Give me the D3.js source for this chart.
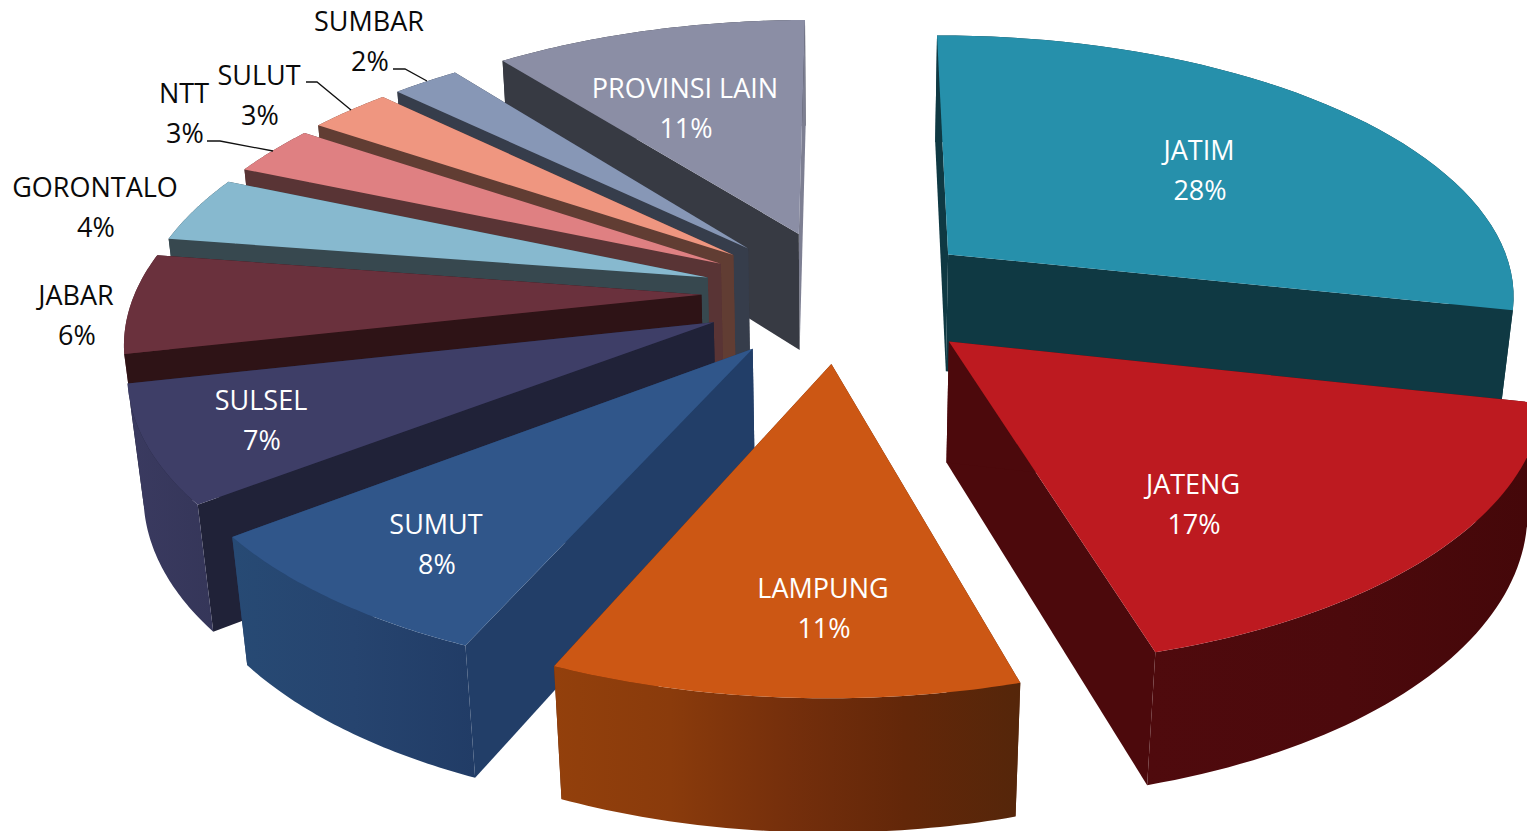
<!DOCTYPE html>
<html><head><meta charset="utf-8"><style>html,body{margin:0;background:#fff;overflow:hidden}svg{display:block}text{font-family:"Open Sans",sans-serif;font-size:27px;text-anchor:middle}</style></head>
<body><svg id="c" width="1527" height="831"></svg>
<script src="https://cdn.jsdelivr.net/npm/d3@7"></script>
<script>
// data
const categories=["JATIM","JATENG","LAMPUNG","SUMUT","SULSEL","JABAR","GORONTALO","NTT","SULUT","SUMBAR","PROVINSI LAIN"];
const percents=[28,17,11,8,7,6,4,3,3,2,11];
// styles
const topColors=["#2690ab","#bd1a20","#cc5714","#30568a","#3e3e67","#6a313d","#87b9cf","#df8082","#ef9680","#8797b6","#8b8ea5"];
const cutColors=["#0f3943","#4c090c","#62270a","#223e68","#202238","#2e1316","#37484f","#593435","#613d33","#363d4b","#373a43"];
const farCutColors=["#0f3943","#4c090c","#62270a","#223e68","#202238","#2e1316","#37484f","#593435","#613d33","#363d4b","#7d7f92"];
const wallStops=[["#0f3943","#0f3943"],["#4f0a0d","#4c090c","#440709"],["#93400c","#8a3b0c","#752f0c","#632709","#55260a"],["#274a74","#26446f","#213c66"],["#3a3a60","#353659"],["#5c2a35","#5c2a35"],["#37484f","#37484f"],["#593435","#593435"],["#613d33","#613d33"],["#363d4b","#363d4b"],["#373a43","#373a43"]];
const labelDark=[false,false,false,false,false,true,true,true,true,true,false];
// layout: label anchors [x, name baseline, percent baseline]
const labelPos=[[1199,160,200],[1193,494,534],[823,598,638],[436,534,574],[261,410,450],[76,305,345],[95,197,237],[184,103,143],[259,85,125],[369,31,71],[685,98,138]];
const leaders=new Map([["NTT",[[207,141],[220,141],[273,151]]],["SULUT",[[306,82],[317,82],[351,110]]],["SUMBAR",[[393,69],[405,69],[427,81]]]]);
// projection of the pie's top plane (unit radius), plus the vanishing point for its thickness
const H=[564.616,-144.945,800,5.799,219.182,300,-0.006597,-0.14806];
const vanish=[839.79,5746.84], thickness=0.02232;
// where each exploded slice's tip lies in the pie plane
const explodeX=[0.2580,0.2619,0.0639,-0.0723,-0.1456,-0.1743,-0.1678,-0.1482,-0.1280,-0.1030,-0.0143];
const explodeY=[-0.1851,0.1464,0.2321,0.1821,0.0876,-0.0153,-0.0815,-0.1360,-0.1718,-0.1983,-0.2599];
const startNudge=[-0.03085,0,0,0,0,0,0,0,0,-0.015,0], endNudge=[0,0,0,0,0,0,0,0,-0.015,0,-0.03384];
const paintOrder=[10,9,8,7,6,5,4,3,0,1,2];

function project(X,Y,bottom){
  const w=H[6]*X+H[7]*Y+1, x=H[0]*X+H[1]*Y+H[2], y=H[3]*X+H[4]*Y+H[5], t=bottom?thickness:0;
  return [(x+vanish[0]*t)/(w+t),(y+vanish[1]*t)/(w+t)];
}
const slices=d3.pie().sort(null).value(d=>d)(percents);
const svg=d3.select("#c"), defs=svg.append("defs"), line=d3.line(), N=48;

paintOrder.forEach(i=>{
  const s=slices[i], a0=s.startAngle+startNudge[i], a1=s.endAngle+endNudge[i];
  const angle=d3.scaleLinear().domain([0,N]).range([a0,a1]);
  const rim=b=>d3.range(N+1).map(k=>project(explodeX[i]+Math.sin(angle(k)),explodeY[i]-Math.cos(angle(k)),b));
  const tip=b=>project(explodeX[i],explodeY[i],b);
  const t=rim(false), u=rim(true);
  const xs=d3.extent(t.concat(u),d=>d[0]);
  const g=defs.append("linearGradient").attr("id","wall"+i).attr("gradientUnits","userSpaceOnUse")
    .attr("x1",xs[0]).attr("x2",xs[1]).attr("y1",0).attr("y2",0);
  const stops=wallStops[i];
  stops.forEach((c,k)=>g.append("stop").attr("offset",k/(stops.length-1)).attr("stop-color",c));
  const G=svg.append("g");
  const wall=()=>G.append("path").attr("d",line([...t,...u.slice().reverse()])+"Z").attr("fill",`url(#wall${i})`);
  const cuts=()=>{
    G.append("path").attr("d",line([tip(false),t[N],u[N],tip(true)])+"Z").attr("fill",farCutColors[i]);
    G.append("path").attr("d",line([tip(false),t[0],u[0],tip(true)])+"Z").attr("fill",cutColors[i]);
  };
  const wallFacesViewer=Math.cos((a0+a1)/2)<-0.2;
  if(wallFacesViewer){cuts();wall();}else{wall();cuts();}
  G.append("path").attr("d",line([tip(false),...t])+"Z").attr("fill",topColors[i]);
});

categories.forEach((name,i)=>{
  const fill=labelDark[i]?"#0a0a0a":"#fff", pos=labelPos[i];
  svg.append("text").attr("x",pos[0]).attr("y",pos[1]).attr("fill",fill).text(name);
  svg.append("text").attr("x",pos[0]+1).attr("y",pos[2]).attr("fill",fill).text(percents[i]+"%");
  if(leaders.has(name)) svg.append("path").attr("d",line(leaders.get(name))).attr("fill","none").attr("stroke","#111").attr("stroke-width",1.3);
});
</script></body></html>
